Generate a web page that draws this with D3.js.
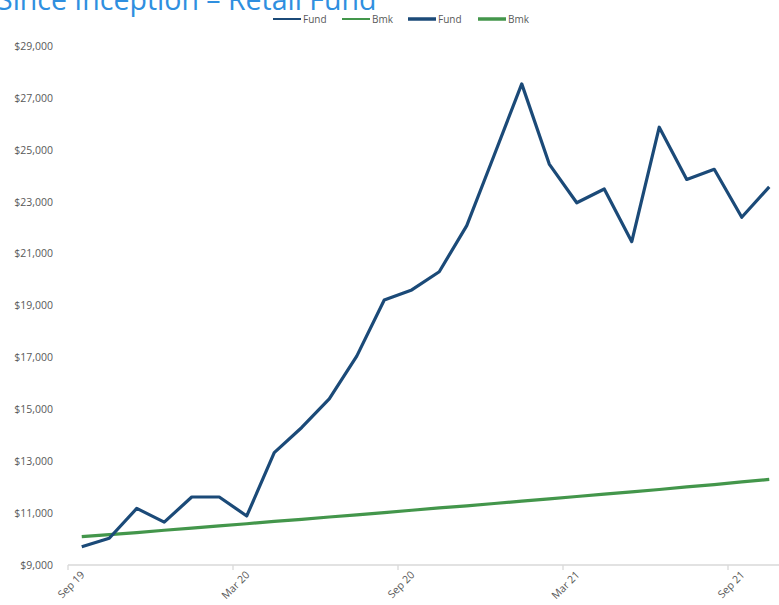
<!DOCTYPE html>
<html>
<head>
<meta charset="utf-8">
<script src="https://cdn.jsdelivr.net/npm/d3@7"></script>
<style>
  html, body { margin: 0; padding: 0; background: #fff; }
  svg { display: block; }
</style>
</head>
<body>
<svg id="chart" width="779" height="605"></svg>
<script>
// ---- data ----
const months = ["Sep 19","Oct 19","Nov 19","Dec 19","Jan 20","Feb 20","Mar 20","Apr 20","May 20","Jun 20","Jul 20","Aug 20",
  "Sep 20","Oct 20","Nov 20","Dec 20","Jan 21","Feb 21","Mar 21","Apr 21","May 21","Jun 21","Jul 21","Aug 21","Sep 21","Oct 21"];
const fundValues = [9700, 10030, 11180, 10650, 11620, 11620, 10890, 13330, 14300, 15400, 17050, 19210,
  19600, 20300, 22080, 24800, 27540, 24450, 22960, 23490, 21460, 25870, 23860, 24250, 22400, 23570];
const bmkValues = [10090, 10170, 10250, 10340, 10420, 10510, 10590, 10680, 10760, 10850, 10930, 11020,
  11110, 11200, 11280, 11370, 11460, 11550, 11640, 11730, 11820, 11910, 12010, 12100, 12200, 12300];
const yTicks = [9000, 11000, 13000, 15000, 17000, 19000, 21000, 23000, 25000, 27000, 29000];
const xLabelMonths = ["Sep 19", "Mar 20", "Sep 20", "Mar 21", "Sep 21"];
const legendItems = [
  { name: "Fund", color: "#1b4a78", width: 2 },
  { name: "Bmk", color: "#43964b", width: 2 },
  { name: "Fund", color: "#1b4a78", width: 3.5 },
  { name: "Bmk", color: "#43964b", width: 3.5 }
];
const titleText = "Since Inception – Retail Fund";

// ---- layout ----
const svg = d3.select("#chart");
const plotLeft = 68, bandW = 27.5;
const plotTop = 46, plotBottom = 565;
const font = "'Open Sans', 'Liberation Sans', sans-serif";
const grey = "#595959";

const x = d3.scaleBand().domain(months).range([plotLeft, plotLeft + bandW * months.length]).paddingInner(0).paddingOuter(0);
const y = d3.scaleLinear().domain([9000, 29000]).range([plotBottom, plotTop]);

// title
svg.append("text")
  .attr("x", -3).attr("y", 10)
  .attr("font-family", font).attr("font-size", 28.5)
  .attr("fill", "#2f8fdf")
  .text(titleText);

// legend
const lg = svg.append("g");
const legendX = [273, 342, 408, 478];
legendItems.forEach((d, i) => {
  const g = lg.append("g").attr("transform", `translate(${legendX[i]},19)`);
  g.append("line").attr("x1", 0).attr("x2", 28).attr("y1", 0).attr("y2", 0)
    .attr("stroke", d.color).attr("stroke-width", d.width);
  g.append("text").attr("x", 30).attr("y", 0).attr("dy", "0.35em")
    .attr("font-family", font).attr("font-size", 10).attr("fill", grey).text(d.name);
});

// y axis labels (no line)
const yAxis = d3.axisLeft(y).tickValues(yTicks).tickSize(0).tickPadding(0)
  .tickFormat(d => "$" + d3.format(",")(d));
const yg = svg.append("g").attr("transform", `translate(53,0)`).call(yAxis);
yg.select(".domain").remove();
yg.selectAll("text").attr("font-family", font).attr("font-size", 10.5).attr("fill", grey);

// x axis
const xg = svg.append("g");
xg.append("line").attr("x1", plotLeft).attr("x2", 779).attr("y1", plotBottom).attr("y2", plotBottom)
  .attr("stroke", "#d9d9d9").attr("stroke-width", 1.3);
xLabelMonths.forEach(m => {
  const x0 = x(m);
  xg.append("line").attr("x1", x0).attr("x2", x0).attr("y1", plotBottom).attr("y2", plotBottom + 5)
    .attr("stroke", "#d9d9d9").attr("stroke-width", 1.3);
  const cx = x0 + x.bandwidth() / 2;
  xg.append("text")
    .attr("transform", `translate(${cx + 1},${plotBottom + 8}) rotate(-45)`)
    .attr("text-anchor", "end").attr("dy", "0.35em")
    .attr("font-family", font).attr("font-size", 10.5).attr("fill", grey)
    .text(m);
});

// lines
const line = d3.line().x((d, i) => x(months[i]) + x.bandwidth() / 2).y(d => y(d));
svg.append("path").datum(bmkValues).attr("d", line)
  .attr("fill", "none").attr("stroke", "#43964b").attr("stroke-width", 3.2)
  .attr("stroke-linejoin", "round");
svg.append("path").datum(fundValues).attr("d", line)
  .attr("fill", "none").attr("stroke", "#1b4a78").attr("stroke-width", 3.2)
  .attr("stroke-linejoin", "round");
</script>
</body>
</html>
